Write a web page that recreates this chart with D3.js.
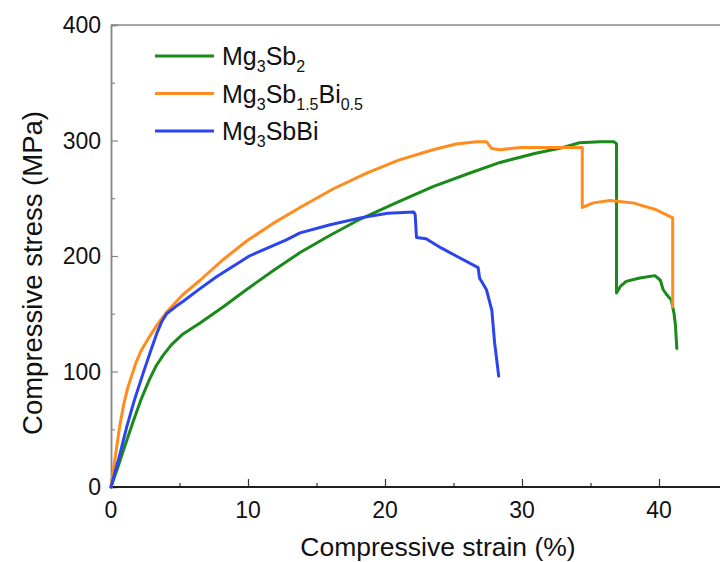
<!DOCTYPE html>
<html>
<head>
<meta charset="utf-8">
<script src="https://cdn.jsdelivr.net/npm/d3@7"></script>
<style>
  body { margin: 0; background: #fff; }
  svg { display: block; font-family: Arial, "Liberation Sans", sans-serif; }
</style>
</head>
<body>
<div id="chart"></div>
<script>
// curves: [strain %, stress MPa]
const mg3sb2 = [[0,0],[0.5,17],[1.0,35],[1.6,56],[2.2,76],[2.8,93],[3.3,105],[3.8,114],[4.4,123],[5.2,132],[6.5,142],[8.2,156],[9.9,171],[11.8,187],[13.8,203],[16,218],[18.2,232],[20.8,246],[23.5,260],[26,271],[28.4,281],[31,289],[33,294],[34.2,298],[35.7,299],[36.7,299],[36.9,297],[36.9,168],[37.2,174],[37.6,178],[38.6,181],[39.7,183],[40.1,179],[40.3,171],[40.6,166],[40.9,162],[41.1,150],[41.2,140],[41.3,120]];
const mg3sb15bi05 = [[0,0],[0.3,25],[0.6,50],[0.9,70],[1.2,85],[1.5,96],[1.8,107],[2.2,118],[2.8,130],[3.4,141],[4.1,152],[5.2,166],[6.5,179],[8.2,197],[9.9,213],[11.8,228],[13.8,242],[16.2,258],[18.7,272],[21,283],[23.5,292],[25.2,297],[26.7,299],[27.4,299],[27.8,293],[28.4,292],[29.9,294],[32,294],[34.4,294],[34.4,242],[35.2,246],[36.4,248],[38.1,246],[39.8,240],[41.0,233],[41.0,156]];
const mg3sbbi = [[0,0],[0.6,26],[1.15,52],[1.7,75],[2.36,99],[2.9,118],[3.34,133],[3.7,143],[4.06,150],[4.7,156],[5.3,161],[6.3,170],[7.7,182],[10.1,200],[12.8,214],[13.8,220],[16,227],[18.2,233],[20.2,237],[22.1,238],[22.2,236],[22.3,216],[23.0,215],[24.1,207],[25.2,200],[26.8,190],[26.9,181],[27.4,171],[27.8,153],[28.0,125],[28.3,96]];

const seriesNames = ["Mg3Sb2", "Mg3Sb1.5Bi0.5", "Mg3SbBi"];
const seriesColors = ["#1a8a1a", "#ff8c1c", "#2b44ee"];
const xTicks = [0, 10, 20, 30, 40];
const yTicks = [0, 100, 200, 300, 400];

const width = 720, height = 562;
const svg = d3.select("#chart").append("svg")
    .attr("width", width)
    .attr("height", height);

const x = d3.scaleLinear().domain([0, 45]).range([111, 727.5]);
const y = d3.scaleLinear().domain([0, 400]).range([487, 25]);

// top frame line
svg.append("line")
    .attr("x1", x(0)).attr("x2", width)
    .attr("y1", y(400)).attr("y2", y(400))
    .attr("stroke", "#888").attr("stroke-width", 1.5);

// left axis
const gy = svg.append("g").attr("transform", `translate(${x(0)},0)`);
gy.call(d3.axisRight(y).tickValues(d3.range(50, 400, 100)).tickSize(4).tickFormat(""));
gy.call(g => g.append("g").call(d3.axisRight(y).tickValues(yTicks).tickSize(7).tickFormat("")));
gy.selectAll("path.domain").attr("stroke", "#888").attr("stroke-width", 1.5);
gy.selectAll(".tick line").attr("stroke", "#888").attr("stroke-width", 1.2);
svg.append("g").selectAll("text")
    .data(yTicks)
    .join("text")
    .attr("x", 101)
    .attr("y", d => y(d) + 8)
    .attr("text-anchor", "end")
    .attr("font-size", 23)
    .attr("fill", "#111")
    .text(d => d);

// bottom axis
const gx = svg.append("g").attr("transform", `translate(0,${y(0)})`);
gx.call(d3.axisTop(x).tickValues([5, 15, 25, 35]).tickSize(4).tickFormat(""));
gx.call(g => g.append("g").call(d3.axisTop(x).tickValues(xTicks).tickSize(8).tickFormat("")));
gx.selectAll("path.domain").attr("d", `M${x(0)},0H${width}`).attr("stroke", "#111").attr("stroke-width", 1.5);
gx.selectAll(".tick line").attr("stroke", "#333").attr("stroke-width", 1.2);
svg.append("g").selectAll("text")
    .data(xTicks)
    .join("text")
    .attr("x", d => x(d))
    .attr("y", 518)
    .attr("text-anchor", "middle")
    .attr("font-size", 23)
    .attr("fill", "#111")
    .text(d => d);

// axis titles
svg.append("text")
    .attr("x", 438).attr("y", 556)
    .attr("text-anchor", "middle")
    .attr("font-size", 26.5)
    .attr("fill", "#111")
    .text("Compressive strain (%)");
svg.append("text")
    .attr("transform", `translate(42,273) rotate(-90)`)
    .attr("text-anchor", "middle")
    .attr("font-size", 27.5)
    .attr("fill", "#111")
    .text("Compressive stress (MPa)");

// curves
const line = d3.line().x(d => x(d[0])).y(d => y(d[1]));
[mg3sb2, mg3sb15bi05, mg3sbbi].forEach((data, i) => {
    svg.append("path")
        .datum(data)
        .attr("d", line)
        .attr("fill", "none")
        .attr("stroke", seriesColors[i])
        .attr("stroke-width", 3)
        .attr("stroke-linejoin", "round")
        .attr("stroke-linecap", "round");
});

// legend with subscripts
const legendParts = [
    [["Mg", false], ["3", true], ["Sb", false], ["2", true]],
    [["Mg", false], ["3", true], ["Sb", false], ["1.5", true], ["Bi", false], ["0.5", true]],
    [["Mg", false], ["3", true], ["SbBi", false]]
];
const legend = svg.append("g");
seriesNames.forEach((name, i) => {
    const ly = 56 + i * 37.5;
    legend.append("line")
        .attr("x1", 155).attr("x2", 214)
        .attr("y1", ly).attr("y2", ly)
        .attr("stroke", seriesColors[i])
        .attr("stroke-width", 3);
    const t = legend.append("text")
        .attr("x", 222).attr("y", ly + 9)
        .attr("font-size", 25)
        .attr("fill", "#111");
    let sub = false;
    legendParts[i].forEach(([s, isSub]) => {
        const dy = isSub && !sub ? 7 : (!isSub && sub ? -7 : 0);
        t.append("tspan")
            .attr("dy", dy)
            .attr("font-size", isSub ? 16 : 25)
            .text(s);
        sub = isSub;
    });
});
</script>
</body>
</html>
